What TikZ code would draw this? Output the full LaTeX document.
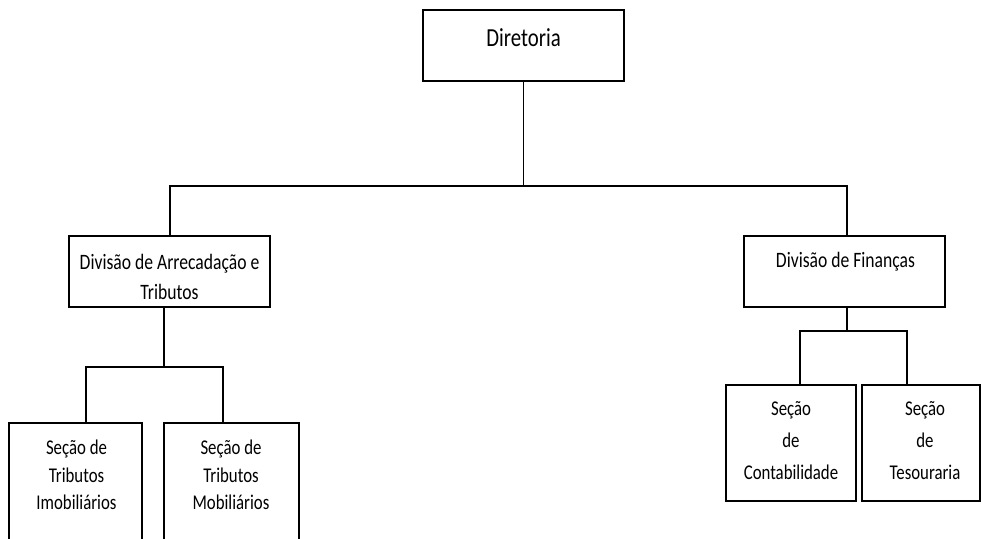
\documentclass[tikz,border=0pt]{standalone}
\usepackage{fontspec}
\newfontfamily\orgfont[FakeStretch=0.8]{Carlito}
\begin{document}
\begin{tikzpicture}[x=1pt,y=-1pt,
  box/.style={draw=black,line width=1.5pt,inner sep=0pt},
  txt/.style={align=center,inner sep=0pt,font=\orgfont\fontsize{22}{30}\selectfont},
  sectxt/.style={txt,font=\orgfont\fontsize{21}{27.5}\selectfont},
  link/.style={draw=black,line width=1.1pt}]
\useasboundingbox (0,0) rectangle (981,538);
\node[box,minimum width=201pt,minimum height=71pt] (dir) at (523.5,45.5) {}; \node[txt,font=\orgfont\fontsize{26}{30}\selectfont] (dirtxt) at (523.5,38) {Diretoria};
\node[box,minimum width=201pt,minimum height=71pt] (divA) at (169.5,271.5) {}; \node[txt] (divAtxt) at (169.5,277) {Divisão de Arrecadação e\\Tributos};
\node[box,minimum width=201pt,minimum height=71pt] (divF) at (844.5,271.5) {}; \node[txt] (divFtxt) at (845.5,262) {Divisão de Finanças};
\node[box,minimum width=133pt,minimum height=137pt] (secI) at (75.5,491.5) {}; \node[sectxt] (secItxt) at (76.5,475) {Seção de\\Tributos\\Imobiliários};
\node[box,minimum width=135pt,minimum height=137pt] (secM) at (231.5,491.5) {}; \node[sectxt] (secMtxt) at (231,475) {Seção de\\Tributos\\Mobiliários};
\node[box,minimum width=130pt,minimum height=116pt] (secC) at (791,443) {}; \node[sectxt,font=\orgfont\fontsize{21}{32}\selectfont] (secCtxt) at (791,441) {Seção\\de\\Contabilidade};
\node[box,minimum width=118pt,minimum height=116pt] (secT) at (921,443) {}; \node[sectxt,font=\orgfont\fontsize{21}{32}\selectfont] (secTtxt) at (925,441) {Seção\\de\\Tesouraria};
\coordinate (busL) at (170,186); \coordinate (busR) at (847,186);
\draw[link] (dir.south) -- (dir.south |- busL);
\draw[link] (divA.north -| busL) -- (busL) -- (busR) -- (divF.north -| busR);
\coordinate (busAL) at (86,367); \coordinate (busAR) at (223,367);
\draw[link] ([xshift=-5.5pt]divA.south) -- ([xshift=-5.5pt]divA.south |- busAL);
\draw[link] (secI.north -| busAL) -- (busAL) -- (busAR) -- (secM.north -| busAR);
\coordinate (busFL) at (800,331); \coordinate (busFR) at (907,331);
\draw[link] ([xshift=2.5pt]divF.south) -- ([xshift=2.5pt]divF.south |- busFL);
\draw[link] (secC.north -| busFL) -- (busFL) -- (busFR) -- (secT.north -| busFR);
\end{tikzpicture}
\end{document}
